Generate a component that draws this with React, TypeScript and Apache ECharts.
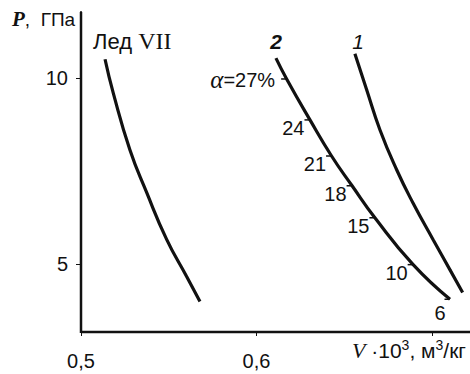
import React, { useEffect, useRef } from "react";
import * as echarts from "echarts";

const iceV = [0.5137, 0.5184, 0.5279, 0.5374, 0.5488, 0.5602, 0.5678];
const iceP = [10.5, 9.59, 8.06, 6.92, 5.66, 4.66, 3.99];

const curve1V = [0.6561, 0.6628, 0.6704, 0.6799, 0.6893, 0.7007, 0.7103, 0.7175];
const curve1P = [10.65, 9.68, 8.6, 7.53, 6.63, 5.65, 4.84, 4.23];

const curve2V = [0.6111, 0.6172, 0.6305, 0.6428, 0.6545, 0.6675, 0.6893, 0.7103];
const curve2P = [10.53, 9.97, 8.87, 7.9, 7.1, 6.24, 4.98, 4.05];

const alphaLabels = ["27", "24", "21", "18", "15", "10", "6"];
const alphaV = [0.6172, 0.6305, 0.6428, 0.6545, 0.6675, 0.6893, 0.7103];
const alphaP = [9.97, 8.87, 7.9, 7.1, 6.24, 4.98, 4.05];

const xMin = 0.5;
const xMax = 0.7217;
const yMin = 3.17;
const yMax = 11.77;
const xTicks = [0.5, 0.6, 0.7];
const xTickLabels = ["0,5", "0,6", ""];
const yTicks = [5, 10];

const SANS = "Liberation Sans, Arial, sans-serif";
const SERIF = "Liberation Serif, Times New Roman, serif";

export default function App() {
  const ref = useRef<HTMLDivElement>(null);
  useEffect(() => {
    if (!ref.current) return;
    const chart = echarts.init(ref.current, undefined, { renderer: "svg" });
    const zip = (a: number[], b: number[]) => a.map((v, i) => [v, b[i]]);
    const lineStyle = { color: "#111", width: 3.2 };
    const last = alphaLabels.length - 1;
    const option: any = {
      animation: false,
      backgroundColor: "#fff",
      grid: { left: 81, right: 0, top: 12, bottom: 42, containLabel: false },
      xAxis: {
        type: "value",
        min: xMin,
        max: xMax,
        axisLine: { show: true, onZero: false, lineStyle: { color: "#111", width: 2 } },
        axisTick: { show: true, length: 4, lineStyle: { color: "#111", width: 1 }, customValues: xTicks },
        axisLabel: {
          customValues: xTicks,
          formatter: (v: number) => {
            const i = xTicks.findIndex((t) => Math.abs(t - v) < 1e-6);
            return i >= 0 ? xTickLabels[i] : "";
          },
          color: "#111",
          fontFamily: SANS,
          fontSize: 20,
          margin: 19,
        },
        splitLine: { show: false },
      },
      yAxis: {
        type: "value",
        min: yMin,
        max: yMax,
        axisLine: { show: true, onZero: false, lineStyle: { color: "#111", width: 2 } },
        axisTick: { show: true, length: 5, lineStyle: { color: "#111", width: 1 }, customValues: yTicks },
        axisLabel: {
          customValues: yTicks,
          formatter: (v: number) => String(v),
          color: "#111",
          fontFamily: SANS,
          fontSize: 20,
          margin: 13,
        },
        splitLine: { show: false },
      },
      series: [
        { type: "line", data: zip(iceV, iceP), smooth: 0.5, showSymbol: false, lineStyle },
        { type: "line", data: zip(curve1V, curve1P), smooth: 0.5, showSymbol: false, lineStyle },
        { type: "line", data: zip(curve2V, curve2P), smooth: 0.5, showSymbol: false, lineStyle },
        {
          type: "scatter",
          symbol: "rect",
          symbolSize: [5, 1.5],
          symbolOffset: [-3, 0],
          itemStyle: { color: "#111", opacity: 1 },
          z: 5,
          data: alphaV.map((v, i) => ({
            value: [v, alphaP[i]],
            name: alphaLabels[i],
            label:
              i === last
                ? { position: "bottom", offset: [-7, -1] }
                : { position: "left", offset: [i === 0 ? -2 : 4, i === 0 ? 1 : 8] },
          })),
          label: {
            show: true,
            distance: 4,
            color: "#111",
            fontFamily: SANS,
            fontSize: 20,
            formatter: (p: any) => (p.dataIndex === 0 ? "{a|α}{b|=" + p.name + "%}" : p.name),
            rich: {
              a: { fontFamily: SERIF, fontStyle: "italic", fontSize: 25, color: "#111" },
              b: { fontFamily: SANS, fontSize: 20, color: "#111" },
            },
          },
        },
      ],
      graphic: [
        {
          type: "text",
          x: 12,
          y: 19,
          style: {
            text: "{p|P}{u|,  ГПа}",
            verticalAlign: "middle",
            rich: {
              p: { fontFamily: SERIF, fontStyle: "italic", fontWeight: "bold", fontSize: 21, fill: "#111" },
              u: { fontFamily: SANS, fontSize: 19, fill: "#111" },
            },
          },
        },
        {
          type: "text",
          x: 93,
          y: 41,
          style: {
            text: "{a|Лед }{b|VII}",
            verticalAlign: "middle",
            rich: {
              a: { fontFamily: SANS, fontSize: 22, fill: "#111" },
              b: { fontFamily: SERIF, fontSize: 24, fill: "#111" },
            },
          },
        },
        {
          type: "text",
          x: 276,
          y: 41,
          style: {
            text: "2",
            align: "center",
            verticalAlign: "middle",
            fontFamily: SANS,
            fontStyle: "italic",
            fontWeight: "bold",
            fontSize: 21,
            fill: "#111",
          },
        },
        {
          type: "text",
          x: 358,
          y: 41,
          style: {
            text: "1",
            align: "center",
            verticalAlign: "middle",
            fontFamily: SANS,
            fontStyle: "italic",
            fontSize: 21,
            fill: "#111",
          },
        },
        {
          type: "text",
          x: 352,
          y: 350,
          style: {
            text: "{v|V}{n| ·10}{s|3}{n|, м}{s|3}{n|/кг}",
            verticalAlign: "middle",
            rich: {
              v: { fontFamily: SERIF, fontStyle: "italic", fontSize: 22, fill: "#111" },
              n: { fontFamily: SANS, fontSize: 21, fill: "#111" },
              s: { fontFamily: SANS, fontSize: 14, fill: "#111", verticalAlign: "top", lineHeight: 25 },
            },
          },
        },
      ],
    };
    chart.setOption(option);
    // axis lines drawn from the chart's own scales
    const origin = chart.convertToPixel({ gridIndex: 0 }, [xMin, yMin]) as number[];
    const xEnd = chart.convertToPixel({ gridIndex: 0 }, [xMax, yMin]) as number[];
    const yEnd = chart.convertToPixel({ gridIndex: 0 }, [xMin, yMax]) as number[];
    chart.setOption({
      graphic: [
        ...option.graphic,
        {
          type: "line",
          z: 10,
          shape: { x1: origin[0], y1: origin[1], x2: xEnd[0], y2: xEnd[1] },
          style: { stroke: "#111", lineWidth: 2.5 },
        },
        {
          type: "line",
          z: 10,
          shape: { x1: origin[0], y1: origin[1] + 1, x2: yEnd[0], y2: yEnd[1] },
          style: { stroke: "#111", lineWidth: 2.5 },
        },
      ],
    });
    return () => chart.dispose();
  }, []);
  return (
    <div
      ref={ref}
      style={{ position: "fixed", left: 0, top: 0, width: 470, height: 374, background: "#fff" }}
    />
  );
}
